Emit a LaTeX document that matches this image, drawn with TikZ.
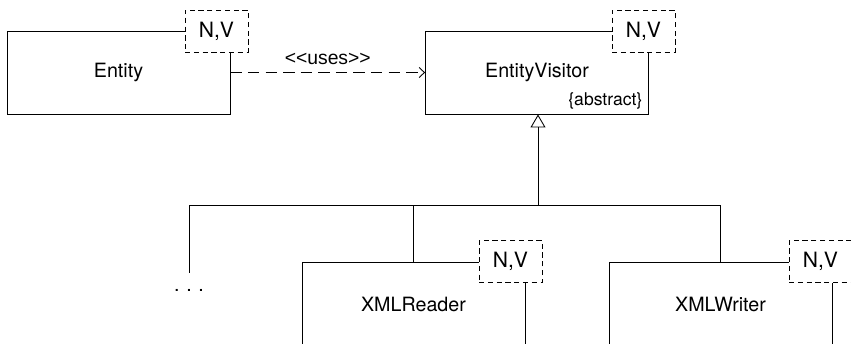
\documentclass[tikz,border=0pt]{standalone}
\usepackage{fontspec}
\setmainfont{TeX Gyre Heros}
\newfontfamily\stereofont{Liberation Sans}
\usetikzlibrary{arrows.meta,positioning}

\begin{document}
\begin{tikzpicture}[x=0.02cm,y=0.02cm,
  cls/.style={draw,line width=0.5pt,minimum width=4.46cm,minimum height=1.66cm,font=\fontsize{11.2}{13}\selectfont},
  tmpl/.style={draw,fill=white,line width=0.5pt,dash pattern=on 3pt off 2pt,minimum width=1.26cm,minimum height=0.84cm,inner sep=0pt,font=\fontsize{12}{14}\selectfont},
  uses/.style={line width=0.5pt,dash pattern=on 6.5pt off 3.5pt,-{Straight Barb[length=3pt,width=5.7pt]}},
  inherit/.style={line width=0.5pt,-{Triangle[open,length=7.4pt,width=8.5pt]}}]
\clip (0,0) rectangle (851,343);
\coordinate (bus) at (538,138);
\node[cls] (ent) at (118.5,270.5) {Entity};
\node[tmpl] (entT) at (216.5,312) {N,V};
\node[cls] (ev) at (537,270.5) {EntityVisitor};
\node[tmpl] (evT) at (643.5,312) {N,V};
\node[anchor=south east,inner xsep=3.5pt,inner ysep=3pt,font=\fontsize{10}{12}\selectfont] (evAbs) at (ev.south east) {\{abstract\}};
\node[cls] (rd) at (413.5,39) {XMLReader};
\node[tmpl] (rdT) at (510.5,81.5) {N,V};
\node[cls] (wr) at (720.5,39) {XMLWriter};
\node[tmpl] (wrT) at (820.5,81.5) {N,V};
\node[anchor=base,font=\fontsize{11.2}{13}\selectfont] (more) at (189,52) {.\,\,.\,\,.};
\draw[uses] (ent.east) -- node[above=1pt,font=\stereofont\fontsize{11}{13}\selectfont] (usesLbl) {<\kern0pt<uses>\kern0pt>} (ev.west);
\draw[inherit] (bus) -- (bus |- ev.south);
\draw[line width=0.5pt] ([yshift=0.2cm]more.north) -- (more.north |- bus) -- (bus -| wr.north);
\draw[line width=0.5pt] (bus -| rd.north) -- (rd.north);
\draw[line width=0.5pt] (bus -| wr.north) -- (wr.north);
\end{tikzpicture}
\end{document}
